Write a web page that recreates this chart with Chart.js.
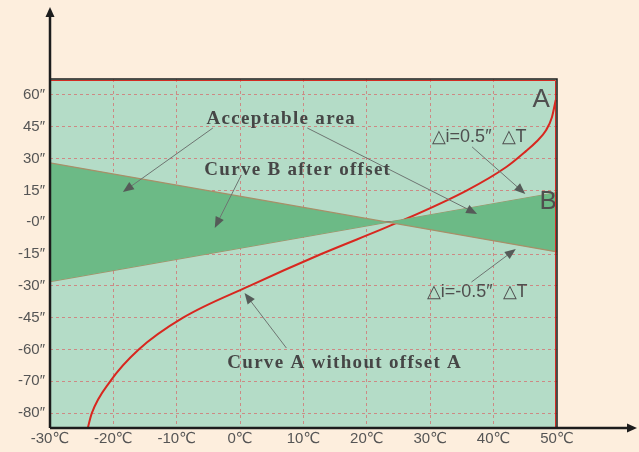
<!DOCTYPE html>
<html>
<head>
<meta charset="utf-8">
<script src="https://cdn.jsdelivr.net/npm/chart.js@4"></script>
<style>
html,body{margin:0;padding:0;background:#fdeedd;}
#wrap{width:639px;height:452px;}
</style>
</head>
<body>
<div id="wrap"><canvas id="c" width="639" height="452"></canvas></div>
<script>

// axis ticks
let xTicks = [-30,-20,-10,0,10,20,30,40,50]
let yTickValues = [60,45,30,15,0,-15,-30,-45,-60,-70,-80]
let yTickLabels = ["60″","45″","30″","15″","-0″","-15″","-30″","-45″","-60″","-70″","-80″"]

// acceptable area limits (±0.5″ per ℃)
let upperX = [-30,50]
let upperY = [28,-14]
let lowerX = [-30,50]
let lowerY = [-28,14]

// curve B after offset
let curveBX = [-30,50]
let curveBY = [-7.5,4]

// curve A without offset
let curveAX = [-24.2,-23.4,-20.5,-16,-9,1.5,12.8,25,35.8,42,45.1,46.7,48.3,49.2,49.8]
let curveAY = [-86,-80,-70,-60,-45,-30,-15,0,15,26,33.5,37.8,43.5,49.5,57.6]

// the y axis squeezes the part under -60″ (steps of 10 instead of 15)
function toAxis(v){
  return v >= -60 ? v : -60 + (v + 60) * 1.5
}

function pts(xs,ys){
  return xs.map((x,i)=>({x:x,y:toAxis(ys[i])}))
}

// annotation texts and arrows, in data units
let notes = [
  {text:"Acceptable area", x:6.5, y:48.7, font:"bold 19px 'Liberation Serif'", sp:"1.3px"},
  {text:"Curve B after offset", x:9.1, y:24.6, font:"bold 19px 'Liberation Serif'", sp:"1.3px"},
  {text:"Curve A without offset A", x:16.5, y:-66.5, font:"bold 19px 'Liberation Serif'", sp:"1.3px"},
  {text:"△i=0.5″  △T", x:37.7, y:40.2, font:"18px 'Liberation Sans'", sp:"0px"},
  {text:"△i=-0.5″  △T", x:37.4, y:-32.9, font:"18px 'Liberation Sans'", sp:"0px"},
  {text:"A", x:47.5, y:57.6, font:"26px 'Liberation Sans'", sp:"0px"},
  {text:"B", x:48.6, y:9.5, font:"26px 'Liberation Sans'", sp:"0px"}
]
let arrows = [
  [-4.3,44.4,-18.5,14.2],
  [10.6,44.4,37.4,3.9],
  [0.2,22.3,-4,-2.7],
  [36.6,35.5,45,13.3],
  [36.5,-28.2,43.5,-12.6],
  [7.3,-59.3,0.7,-33.4]
]

let decor = {
  id:"decor",
  beforeDraw(chart){
    let ctx = chart.ctx
    let a = chart.chartArea
    ctx.save()
    ctx.fillStyle = "#fdeedd"
    ctx.fillRect(0,0,chart.width,chart.height)
    ctx.fillStyle = "#b4dcc7"
    ctx.fillRect(a.left,a.top,a.right-a.left,a.bottom-a.top)
    ctx.restore()
  },
  afterDraw(chart){
    let ctx = chart.ctx
    let a = chart.chartArea
    let xs = chart.scales.x, ys = chart.scales.y
    ctx.save()

    // arrows
    ctx.strokeStyle = "#6e7572"
    ctx.fillStyle = "#555b58"
    ctx.lineWidth = 1
    arrows.forEach(ar=>{
      let x1 = xs.getPixelForValue(ar[0]), y1 = ys.getPixelForValue(ar[1])
      let x2 = xs.getPixelForValue(ar[2]), y2 = ys.getPixelForValue(ar[3])
      let ang = Math.atan2(y2-y1,x2-x1)
      ctx.beginPath()
      ctx.moveTo(x1,y1)
      ctx.lineTo(x2-Math.cos(ang)*8,y2-Math.sin(ang)*8)
      ctx.stroke()
      ctx.beginPath()
      ctx.moveTo(x2,y2)
      ctx.lineTo(x2-Math.cos(ang)*11+Math.sin(ang)*4.5,y2-Math.sin(ang)*11-Math.cos(ang)*4.5)
      ctx.lineTo(x2-Math.cos(ang)*11-Math.sin(ang)*4.5,y2-Math.sin(ang)*11+Math.cos(ang)*4.5)
      ctx.closePath()
      ctx.fill()
    })

    // texts
    ctx.textAlign = "center"
    ctx.textBaseline = "middle"
    notes.forEach(n=>{
      ctx.font = n.font
      ctx.letterSpacing = n.sp
      ctx.fillStyle = n.font.indexOf("bold")>=0 ? "#464646" : "#4f4f4f"
      ctx.fillText(n.text,xs.getPixelForValue(n.x),ys.getPixelForValue(n.y))
    })
    ctx.letterSpacing = "0px"

    // frame
    ctx.strokeStyle = "#d42a22"
    ctx.lineWidth = 1
    ctx.beginPath()
    ctx.moveTo(a.left,a.top+1.5)
    ctx.lineTo(a.right-1.5,a.top+1.5)
    ctx.lineTo(a.right-1.5,a.bottom)
    ctx.stroke()
    ctx.strokeStyle = "#1c1c1c"
    ctx.lineWidth = 1.5
    ctx.beginPath()
    ctx.moveTo(a.left,a.top)
    ctx.lineTo(a.right,a.top)
    ctx.lineTo(a.right,a.bottom)
    ctx.stroke()

    // axis arrows
    ctx.lineWidth = 2.5
    ctx.beginPath()
    ctx.moveTo(a.left,a.bottom)
    ctx.lineTo(a.left,14)
    ctx.moveTo(a.left,a.bottom)
    ctx.lineTo(628,a.bottom)
    ctx.stroke()
    ctx.fillStyle = "#1c1c1c"
    ctx.beginPath()
    ctx.moveTo(a.left,7)
    ctx.lineTo(a.left-4.5,17)
    ctx.lineTo(a.left+4.5,17)
    ctx.closePath()
    ctx.fill()
    ctx.beginPath()
    ctx.moveTo(637,a.bottom)
    ctx.lineTo(627,a.bottom-4.5)
    ctx.lineTo(627,a.bottom+4.5)
    ctx.closePath()
    ctx.fill()
    ctx.restore()
  }
}

let gridColor = "rgba(214,110,110,0.75)"

new Chart(document.getElementById("c"),{
  type:"line",
  data:{
    datasets:[
      {data:pts(upperX,upperY), borderColor:"#a88f68", borderWidth:1.2, pointRadius:0, fill:"+1", backgroundColor:"#6cba86"},
      {data:pts(lowerX,lowerY), borderColor:"#a88f68", borderWidth:1.2, pointRadius:0, fill:false},
      {data:pts(curveBX,curveBY), borderColor:"#3b5d7c", borderWidth:1.3, pointRadius:0, fill:false},
      {data:pts(curveAX,curveAY), borderColor:"#d8271f", borderWidth:2, pointRadius:0, fill:false, cubicInterpolationMode:"monotone"}
    ]
  },
  options:{
    responsive:false,
    animation:false,
    events:[],
    layout:{padding:{top:79,right:82,left:0,bottom:0}},
    plugins:{legend:{display:false},tooltip:{enabled:false}},
    scales:{
      x:{
        type:"linear", min:-30, max:50,
        afterBuildTicks(s){ s.ticks = xTicks.map(v=>({value:v})) },
        afterFit(s){ s.height = 24 },
        ticks:{callback:v=>v+"℃", color:"#555", font:{family:"'Liberation Sans', 'DejaVu Sans'", size:15}, padding:2, maxRotation:0},
        grid:{drawTicks:false, lineWidth:1, color:c=> (c.tick && (c.tick.value===-30||c.tick.value===50)) ? "rgba(0,0,0,0)" : gridColor},
        border:{display:false, dash:[3,3]}
      },
      y:{
        type:"linear", min:-97, max:67.5,
        afterBuildTicks(s){ s.ticks = yTickValues.map(v=>({value:toAxis(v)})) },
        afterFit(s){ s.width = 50 },
        ticks:{callback:v=>yTickLabels[yTickValues.findIndex(t=>Math.abs(toAxis(t)-v)<0.01)], color:"#555", font:{family:"'Liberation Sans'", size:15}, padding:5},
        grid:{drawTicks:false, lineWidth:1, color:gridColor},
        border:{display:false, dash:[3,3]}
      }
    }
  },
  plugins:[decor]
})
</script>
</body>
</html>
